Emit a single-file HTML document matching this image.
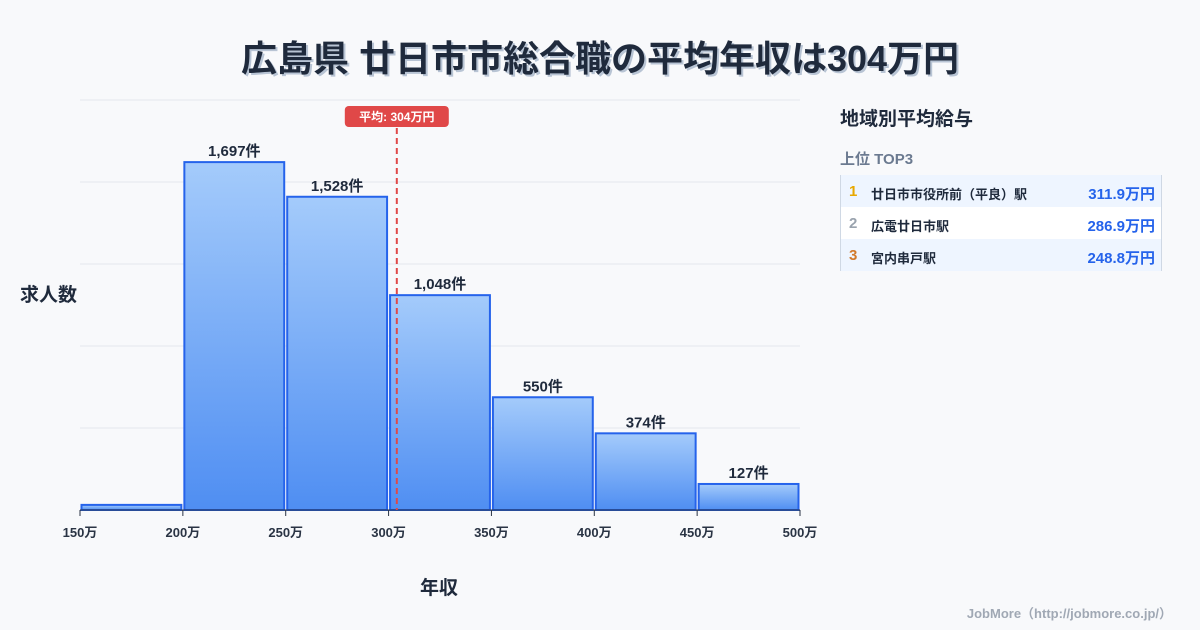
<!DOCTYPE html>
<html><head><meta charset="utf-8"><style>
body{margin:0;width:1200px;height:630px;background:#f8f9fb;font-family:"Liberation Sans","Noto Sans CJK JP",sans-serif;overflow:hidden;position:relative}
.t{position:absolute;white-space:nowrap}
</style></head><body>
<div class="t" style="left:0;width:1200px;top:30px;text-align:center;font-size:36px;font-weight:bold;color:#1f2a3c;text-shadow:2px 2px 0 #b8c4d4">広島県 廿日市市総合職の平均年収は304万円</div>
<svg id="c" width="1200" height="630" style="position:absolute;left:0;top:0">
<defs><linearGradient id="g" x1="0" y1="0" x2="0" y2="1"><stop offset="0" stop-color="#a4cbfb"/><stop offset="1" stop-color="#4f8ef2"/></linearGradient></defs>
</svg>
<div class="t" style="left:20px;top:280px;font-size:19px;font-weight:bold;color:#1f2a3c">求人数</div>
<div class="t" style="left:420px;top:573px;font-size:19px;font-weight:bold;color:#1f2a3c">年収</div>
<div class="t" style="left:840px;top:104px;font-size:19px;font-weight:bold;color:#1f2a3c">地域別平均給与</div>
<div class="t" style="left:840px;top:148px;font-size:15px;font-weight:bold;color:#6b7a90">上位 TOP3</div>
<div style="position:absolute;left:840px;top:175px;width:320px;height:96px;border-left:1px solid #cfd8e4;border-right:1px solid #cfd8e4;font-size:13px;font-weight:bold;color:#1f2a3c">
<div style="height:32px;background:#eef5ff;position:relative"><span class="t" style="left:8px;top:8px;color:#e8a800;font-size:15px">1</span><span class="t" style="left:30px;top:9px">廿日市市役所前（平良）駅</span><span class="t" style="right:6px;top:8px;color:#2563eb;font-size:15px">311.9万円</span></div>
<div style="height:32px;background:#fff;position:relative"><span class="t" style="left:8px;top:8px;color:#9aa3ae;font-size:15px">2</span><span class="t" style="left:30px;top:9px">広電廿日市駅</span><span class="t" style="right:6px;top:8px;color:#2563eb;font-size:15px">286.9万円</span></div>
<div style="height:32px;background:#eef5ff;position:relative"><span class="t" style="left:8px;top:8px;color:#d27a2c;font-size:15px">3</span><span class="t" style="left:30px;top:9px">宮内串戸駅</span><span class="t" style="right:6px;top:8px;color:#2563eb;font-size:15px">248.8万円</span></div>
</div>
<div class="t" style="right:28px;top:603px;font-size:13px;font-weight:bold;color:#a0a8b4">JobMore（http://jobmore.co.jp/）</div>
<script>
const binStarts=[150,200,250,300,350,400,450];
const counts=[25,1697,1528,1048,550,374,127];
const labels=["","1,697件","1,528件","1,048件","550件","374件","127件"];
const xTicks=[150,200,250,300,350,400,450,500];
const yGrid=[0,400,800,1200,1600,2000];
const meanVal=304;
const NS="http://www.w3.org/2000/svg",svg=document.getElementById('c');
const X=v=>80+(v-150)*720/350, Y=v=>510-v*410/2000;
function mk(t,a){const e=document.createElementNS(NS,t);for(const k in a)e.setAttribute(k,a[k]);svg.appendChild(e);return e;}
yGrid.forEach(g=>{const l=mk('line',{x1:80,x2:800,y1:Y(g),y2:Y(g),stroke:'#e3e7ec','stroke-width':1});

});
binStarts.forEach((s,i)=>{const x0=X(s)+1.5,x1=X(s+50)-1.5;const r=mk('rect',{x:x0,y:Y(counts[i]),width:x1-x0,height:510-Y(counts[i]),fill:'url(#g)',stroke:'#2563eb','stroke-width':2});


if(labels[i]){const t=mk('text',{x:(x0+x1)/2,y:Y(counts[i])-6,'text-anchor':'middle','font-size':15,'font-weight':'bold',fill:'#1f2a3c'});t.textContent=labels[i];

}});
mk('line',{x1:80,x2:800,y1:510,y2:510,stroke:'#2a3444','stroke-width':1});
xTicks.forEach(v=>{mk('line',{x1:X(v),x2:X(v),y1:510,y2:516,stroke:'#2a3444'});const t=mk('text',{x:X(v),y:537,'text-anchor':'middle','font-size':13,'font-weight':'bold',fill:'#2a3444'});t.textContent=v+'万';

});
const mx=X(meanVal);
const ml=mk('line',{x1:mx,x2:mx,y1:128,y2:510,stroke:'#e04848','stroke-width':2,'stroke-dasharray':'6,4'});


const mb=mk('rect',{x:mx-52,y:106,width:104,height:21,rx:4,fill:'#e04848'});


const mt=mk('text',{x:mx,y:121,'text-anchor':'middle','font-size':12,'font-weight':'bold',fill:'#fff'});mt.textContent='平均: '+meanVal+'万円';


</script>
</body></html>
